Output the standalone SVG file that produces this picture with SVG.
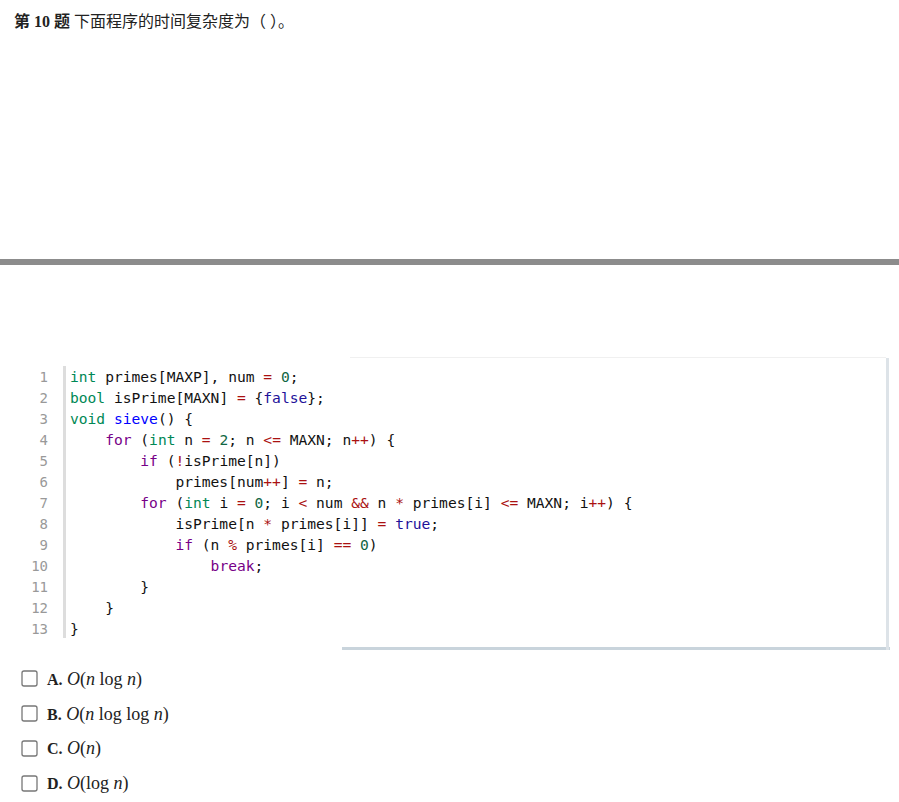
<svg xmlns="http://www.w3.org/2000/svg" width="899" height="802" viewBox="0 0 899 802">
<style>
.c{font-family:"DejaVu Sans Mono","Liberation Mono",monospace;font-size:14.6px;fill:#111;white-space:pre;font-weight:500}
.ln{font-family:"DejaVu Sans Mono","Liberation Mono",monospace;font-size:14px;fill:#999}
.k{fill:#770088}.t{fill:#008855}.d{fill:#0000ff}.o{fill:#aa1111}.n{fill:#116644}.a{fill:#221199}
.opt{font-family:"Liberation Serif",serif;font-size:18px;fill:#222}
.m{font-family:"Liberation Serif",serif;font-style:italic}
.box{fill:#fff;stroke:#777;stroke-width:1.3}
</style>
<rect width="899" height="802" fill="#fff"/>
<g id="title"><text x="14" y="27" font-family="Liberation Serif,'Noto Sans CJK SC',serif" font-size="16" fill="#222"><tspan font-weight="bold">第 10 题</tspan> 下面程序的时间复杂度为（ ）。</text></g>
<rect id="hr" x="0" y="259" width="899" height="6" fill="#8c8c8c"/>
<g id="codebox">
<rect x="342" y="647" width="548" height="3" fill="#c9d4dc"/>
<rect x="886" y="358" width="3" height="292" fill="#dde3e8"/>
<rect x="350" y="357" width="536" height="1" fill="#f0f0f0"/>
<rect x="63" y="366" width="3" height="272" fill="#ddd"/>
<g class="ln" text-anchor="end">
<text x="48" y="382">1</text><text x="48" y="403">2</text><text x="48" y="424">3</text><text x="48" y="445">4</text><text x="48" y="466">5</text><text x="48" y="487">6</text><text x="48" y="508">7</text><text x="48" y="529">8</text><text x="48" y="550">9</text><text x="48" y="571">10</text><text x="48" y="592">11</text><text x="48" y="613">12</text><text x="48" y="634">13</text>
</g>
<text class="c" x="70" y="382"><tspan class="t">int</tspan> primes[MAXP], num <tspan class="o">=</tspan> <tspan class="n">0</tspan>;</text>
<text class="c" x="70" y="403"><tspan class="t">bool</tspan> isPrime[MAXN] <tspan class="o">=</tspan> {<tspan class="a">false</tspan>};</text>
<text class="c" x="70" y="424"><tspan class="t">void</tspan> <tspan class="d">sieve</tspan>() {</text>
<text class="c" x="70" y="445">    <tspan class="k">for</tspan> (<tspan class="t">int</tspan> n <tspan class="o">=</tspan> <tspan class="n">2</tspan>; n <tspan class="o">&lt;=</tspan> MAXN; n<tspan class="o">++</tspan>) {</text>
<text class="c" x="70" y="466">        <tspan class="k">if</tspan> (<tspan class="o">!</tspan>isPrime[n])</text>
<text class="c" x="70" y="487">            primes[num<tspan class="o">++</tspan>] <tspan class="o">=</tspan> n;</text>
<text class="c" x="70" y="508">        <tspan class="k">for</tspan> (<tspan class="t">int</tspan> i <tspan class="o">=</tspan> <tspan class="n">0</tspan>; i <tspan class="o">&lt;</tspan> num <tspan class="o">&amp;&amp;</tspan> n <tspan class="o">*</tspan> primes[i] <tspan class="o">&lt;=</tspan> MAXN; i<tspan class="o">++</tspan>) {</text>
<text class="c" x="70" y="529">            isPrime[n <tspan class="o">*</tspan> primes[i]] <tspan class="o">=</tspan> <tspan class="a">true</tspan>;</text>
<text class="c" x="70" y="550">            <tspan class="k">if</tspan> (n <tspan class="o">%</tspan> primes[i] <tspan class="o">==</tspan> <tspan class="n">0</tspan>)</text>
<text class="c" x="70" y="571">                <tspan class="k">break</tspan>;</text>
<text class="c" x="70" y="592">        }</text>
<text class="c" x="70" y="613">    }</text>
<text class="c" x="70" y="634">}</text>
</g>
<g id="optA"><rect class="box" x="22" y="671" width="15" height="15" rx="2"/><text class="opt" x="47" y="685"><tspan font-weight="bold" font-size="16">A.</tspan> <tspan class="m">O</tspan>(<tspan class="m">n</tspan> log <tspan class="m">n</tspan>)</text></g>
<g id="optB"><rect class="box" x="22" y="706" width="15" height="15" rx="2"/><text class="opt" x="47" y="720"><tspan font-weight="bold" font-size="16">B.</tspan> <tspan class="m">O</tspan>(<tspan class="m">n</tspan> log log <tspan class="m">n</tspan>)</text></g>
<g id="optC"><rect class="box" x="22" y="741" width="15" height="15" rx="2"/><text class="opt" x="47" y="754"><tspan font-weight="bold" font-size="16">C.</tspan> <tspan class="m">O</tspan>(<tspan class="m">n</tspan>)</text></g>
<g id="optD"><rect class="box" x="22" y="776" width="15" height="15" rx="2"/><text class="opt" x="47" y="789"><tspan font-weight="bold" font-size="16">D.</tspan> <tspan class="m">O</tspan>(log <tspan class="m">n</tspan>)</text></g>
</svg>
